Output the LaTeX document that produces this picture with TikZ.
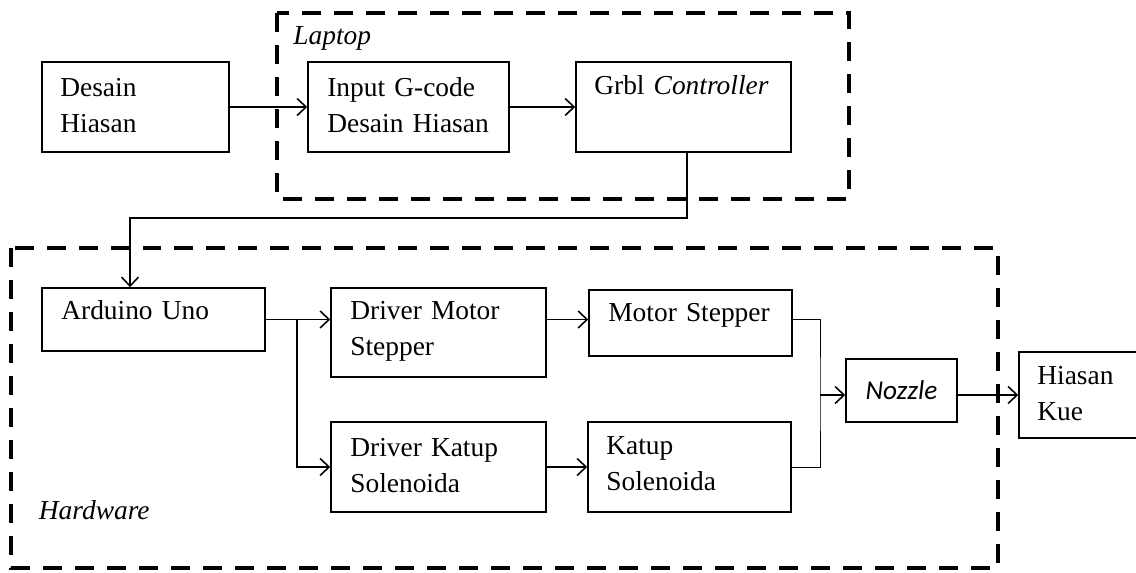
\documentclass[tikz,border=0pt]{standalone}
\usepackage{fontspec}
\setmainfont{Liberation Serif}
\newfontfamily\nzfont{Carlito}
\newcommand\tsp{\spaceskip 0.15em\relax}
\usetikzlibrary{arrows.meta}
\tikzset{
    BX/.style ={rectangle, draw, line width=0.9pt, inner sep=0pt},
    TX/.style ={anchor=base west, inner sep=0pt, text width=5cm, align=left, font={\fontsize{15.6}{20.2}\selectfont\tsp}},
    DS/.style ={draw, line width=2.8pt, dash pattern=on 0.38cm off 0.26cm},
    AR/.style ={line width=0.9pt, -{Straight Barb[length=0.18cm,width=0.34cm]}}}

\begin{document}
\begin{tikzpicture}[x=0.02cm, y=-0.02cm]
        \clip (0,0) rectangle (1136,573);
        \draw[DS] (277,13) rectangle (849,199);
        \draw[DS] (11,248) rectangle (998,568);
        \node[BX, minimum width=3.74cm, minimum height=1.8cm] (1) at (135.5,107){};
        \node[BX, minimum width=4.02cm, minimum height=1.8cm] (2) at (408.5,107){};
        \node[BX, minimum width=4.3cm, minimum height=1.8cm] (3) at (683.5,107){};
        \node[BX, minimum width=4.46cm, minimum height=1.26cm] (4) at (153.5,319.5){};
        \node[BX, minimum width=4.3cm, minimum height=1.78cm] (5) at (438.5,332.5){};
        \node[BX, minimum width=4.3cm, minimum height=1.8cm] (6) at (438.5,467){};
        \node[BX, minimum width=4.06cm, minimum height=1.32cm] (7) at (690.5,323){};
        \node[BX, minimum width=4.06cm, minimum height=1.8cm] (8) at (689.5,467){};
        \node[BX, minimum width=2.22cm, minimum height=1.26cm, font=\nzfont\fontsize{15.5}{18}\selectfont\itshape] (9) at (901.5,390.5){Nozzle};
        \node[BX, minimum width=2.8cm, minimum height=1.72cm] (10) at (1089,395){};
        \node[TX] (t1) at (60,97){Desain\\Hiasan};
        \node[TX] (t2) at (327,97){Input G-code\\Desain Hiasan};
        \node[TX] (t3) at (594,95){Grbl \textit{Controller}};
        \node[TX] (t4) at (61,320){Arduino Uno};
        \node[TX] (t5) at (350,320){Driver Motor\\Stepper};
        \node[TX] (t6) at (350,457){Driver Katup\\Solenoida};
        \node[TX] (t7) at (608,322){Motor Stepper};
        \node[TX] (t8) at (606,455){Katup\\Solenoida};
        \node[TX] (t10) at (1037,385){Hiasan\\Kue};
        \node[TX] (lp) at (293,45){\textit{Laptop}};
        \node[TX] (hw) at (38.6,520){\textit{Hardware}};
        \coordinate (k1) at (687,218);
        \coordinate (k2) at (130,218);
        \coordinate (k3) at (297,319.5);
        \coordinate (k4) at (820,395);
        \draw[AR] (1) --(2);
        \draw[AR] (2) --(3);
        \draw[AR] (3.south -| k1) --(k1) --(k2) --(k2 |- 4.north);
        \draw[AR] (4.east) --(4.east -| 5.west);
        \draw[AR] (k3) |-(6.west);
        \draw[AR] (5.east |- 4.east) --(7.west |- 4.east);
        \draw[AR] (6) --(8);
        \draw (7.east |- 4.east) -|(k4) |-(8.east);
        \draw[AR] (k4) --(9.west |- k4);
        \draw[AR] (9.east |- 10.west) --(10.west);
    \end{tikzpicture}
\end{document}
